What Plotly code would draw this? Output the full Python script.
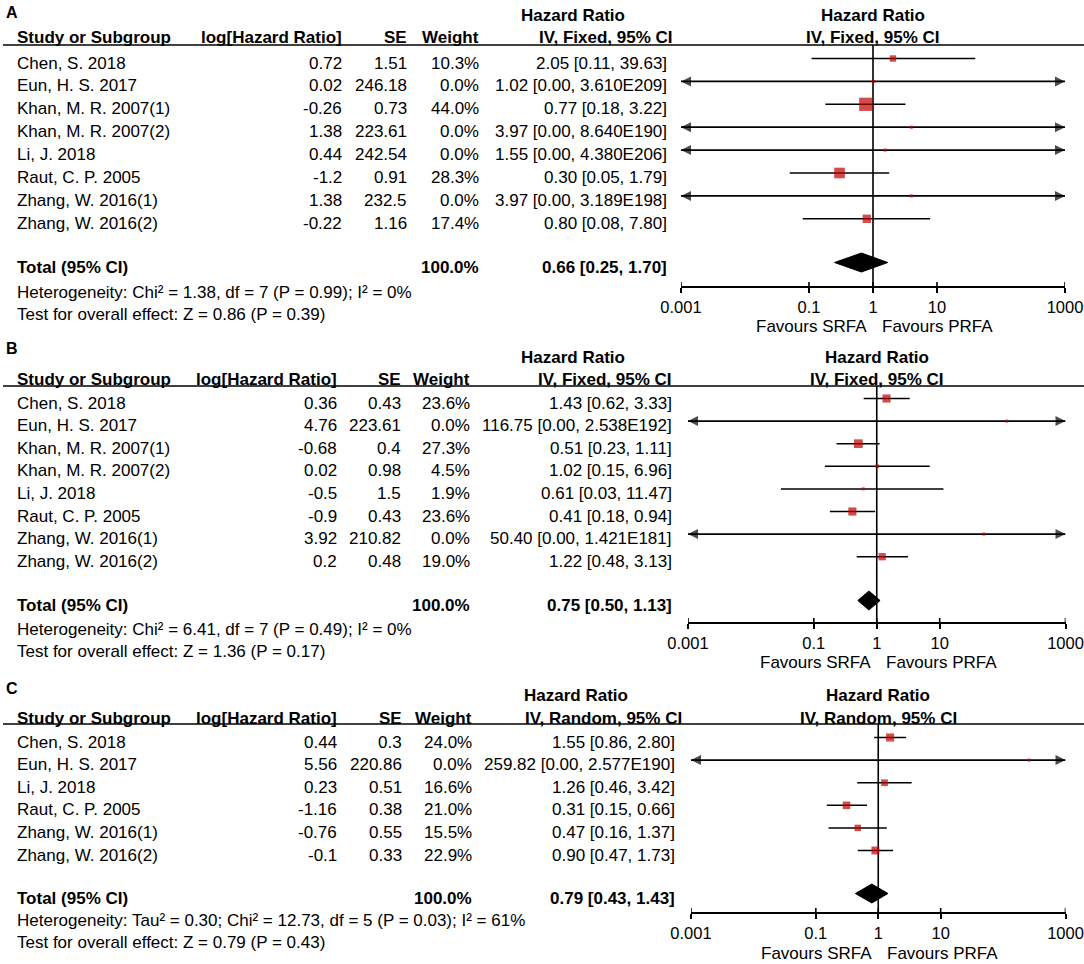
import plotly.graph_objects as go

W, H = 1084, 964
FONT = "Liberation Sans, Arial, sans-serif"
RED = "#C00000"
FS = 17

# ---------------- data ----------------
studies_a = ["Chen, S. 2018", "Eun, H. S. 2017", "Khan, M. R. 2007(1)", "Khan, M. R. 2007(2)",
             "Li, J. 2018", "Raut, C. P. 2005", "Zhang, W. 2016(1)", "Zhang, W. 2016(2)"]
loghr_a = [0.72, 0.02, -0.26, 1.38, 0.44, -1.2, 1.38, -0.22]
se_a = [1.51, 246.18, 0.73, 223.61, 242.54, 0.91, 232.5, 1.16]
weight_a = [10.3, 0.0, 44.0, 0.0, 0.0, 28.3, 0.0, 17.4]
hr_a = [2.05, 1.02, 0.77, 3.97, 1.55, 0.30, 3.97, 0.80]
lo_a = [0.11, 0.00, 0.18, 0.00, 0.00, 0.05, 0.00, 0.08]
hi_a = [39.63, 3.610e209, 3.22, 8.640e190, 4.380e206, 1.79, 3.189e198, 7.80]
total_weight_a = 100.0
total_a = [0.66, 0.25, 1.70]
method_a = "IV, Fixed, 95% CI"
het_a = "Heterogeneity: Chi² = 1.38, df = 7 (P = 0.99); I² = 0%"
test_a = "Test for overall effect: Z = 0.86 (P = 0.39)"

studies_b = ["Chen, S. 2018", "Eun, H. S. 2017", "Khan, M. R. 2007(1)", "Khan, M. R. 2007(2)",
             "Li, J. 2018", "Raut, C. P. 2005", "Zhang, W. 2016(1)", "Zhang, W. 2016(2)"]
loghr_b = [0.36, 4.76, -0.68, 0.02, -0.5, -0.9, 3.92, 0.2]
se_b = [0.43, 223.61, 0.4, 0.98, 1.5, 0.43, 210.82, 0.48]
weight_b = [23.6, 0.0, 27.3, 4.5, 1.9, 23.6, 0.0, 19.0]
hr_b = [1.43, 116.75, 0.51, 1.02, 0.61, 0.41, 50.40, 1.22]
lo_b = [0.62, 0.00, 0.23, 0.15, 0.03, 0.18, 0.00, 0.48]
hi_b = [3.33, 2.538e192, 1.11, 6.96, 11.47, 0.94, 1.421e181, 3.13]
total_weight_b = 100.0
total_b = [0.75, 0.50, 1.13]
method_b = "IV, Fixed, 95% CI"
het_b = "Heterogeneity: Chi² = 6.41, df = 7 (P = 0.49); I² = 0%"
test_b = "Test for overall effect: Z = 1.36 (P = 0.17)"

studies_c = ["Chen, S. 2018", "Eun, H. S. 2017", "Li, J. 2018", "Raut, C. P. 2005",
             "Zhang, W. 2016(1)", "Zhang, W. 2016(2)"]
loghr_c = [0.44, 5.56, 0.23, -1.16, -0.76, -0.1]
se_c = [0.3, 220.86, 0.51, 0.38, 0.55, 0.33]
weight_c = [24.0, 0.0, 16.6, 21.0, 15.5, 22.9]
hr_c = [1.55, 259.82, 1.26, 0.31, 0.47, 0.90]
lo_c = [0.86, 0.00, 0.46, 0.15, 0.16, 0.47]
hi_c = [2.80, 2.577e190, 3.42, 0.66, 1.37, 1.73]
total_weight_c = 100.0
total_c = [0.79, 0.43, 1.43]
method_c = "IV, Random, 95% CI"
het_c = "Heterogeneity: Tau² = 0.30; Chi² = 12.73, df = 5 (P = 0.03); I² = 61%"
test_c = "Test for overall effect: Z = 0.79 (P = 0.43)"

tick_vals = [0.001, 0.1, 1, 10, 1000]
tick_text = ["0.001", "0.1", "1", "10", "1000"]
favours_left = "Favours SRFA"
favours_right = "Favours PRFA"

# ---------------- layout (pixel positions) ----------------
LAYOUT = [
    dict(label="A", label_y=12, hdr1_y=15, hdr2_y=37, line_y=45, row0=63, step=22.9,
         total_y=267, het_y=292, test_y=314, axis_y=287, fav_y=326, ax_x0=681, ax_x1=1065,
         log_r=342, se_r=407, w_r=479, ci_r=667, ci_hdr_r=673, hr_hdr_c=573, sq_k=2.0),
    dict(label="B", label_y=348, hdr1_y=357, hdr2_y=379, line_y=386, row0=403, step=22.6,
         total_y=605, het_y=629, test_y=651, axis_y=623, fav_y=662, ax_x0=688, ax_x1=1065.5,
         log_r=337, se_r=401, w_r=470, ci_r=672, ci_hdr_r=672, hr_hdr_c=573, sq_k=1.67),
    dict(label="C", label_y=688, hdr1_y=695, hdr2_y=718, line_y=724, row0=742, step=22.6,
         total_y=898, het_y=920, test_y=942, axis_y=913, fav_y=953, ax_x0=691, ax_x1=1065.5,
         log_r=337, se_r=402, w_r=472, ci_r=675, ci_hdr_r=682, hr_hdr_c=576, sq_k=1.65),
]

PANELS = [
    dict(studies=studies_a, loghr=loghr_a, se=se_a, weight=weight_a, hr=hr_a, lo=lo_a, hi=hi_a,
         tw=total_weight_a, total=total_a, method=method_a, het=het_a, test=test_a),
    dict(studies=studies_b, loghr=loghr_b, se=se_b, weight=weight_b, hr=hr_b, lo=lo_b, hi=hi_b,
         tw=total_weight_b, total=total_b, method=method_b, het=het_b, test=test_b),
    dict(studies=studies_c, loghr=loghr_c, se=se_c, weight=weight_c, hr=hr_c, lo=lo_c, hi=hi_c,
         tw=total_weight_c, total=total_c, method=method_c, het=het_c, test=test_c),
]

MARK_OFF = -4.5   # markers sit slightly above the text centre
XMIN, XMAX = 1e-3, 1e3


def fmt_num(v):
    if v >= 1e5:
        return f"{v:.3E}".replace("E+", "E")
    return f"{v:.2f}"


def fmt_ci(h, l, u):
    return f"{fmt_num(h)} [{fmt_num(l)}, {fmt_num(u)}]"


fig = go.Figure()
annotations = []
shapes = []


def txt(x, y, s, anchor="left", bold=False, size=FS, xref="paper", xshift=0):
    annotations.append(dict(
        x=(x / W) if xref == "paper" else x, y=y, xref=xref, yref="y",
        text=f"<b>{s}</b>" if bold else s, showarrow=False,
        xanchor=anchor, yanchor="middle", xshift=xshift, borderpad=0, borderwidth=0,
        font=dict(family=FONT, size=size, color="black")))


layout_axes = {}
for i, (P, L) in enumerate(zip(PANELS, LAYOUT)):
    ax = "x" if i == 0 else f"x{i + 1}"
    axkey = "xaxis" if i == 0 else f"xaxis{i + 1}"

    layout_axes[axkey] = dict(
        domain=[L["ax_x0"] / W, L["ax_x1"] / W], type="log", range=[-3, 3],
        anchor="free", position=1 - L["axis_y"] / H, automargin=False,
        showline=True, linecolor="black", linewidth=1.6,
        ticks="outside", ticklen=5, tickwidth=1.6, tickcolor="black",
        tickvals=tick_vals, ticktext=tick_text,
        tickfont=dict(family=FONT, size=16.5, color="black"),
        showgrid=False, zeroline=False, fixedrange=True)

    # ---- text columns ----
    txt(6, L["label_y"], L["label"], bold=True, size=16)
    txt(L["hr_hdr_c"], L["hdr1_y"], "Hazard Ratio", anchor="center", bold=True)
    txt(17, L["hdr2_y"], "Study or Subgroup", bold=True)
    txt(L["log_r"], L["hdr2_y"], "log[Hazard Ratio]", anchor="right", bold=True)
    txt(L["se_r"], L["hdr2_y"], "SE", anchor="right", bold=True)
    txt(L["w_r"], L["hdr2_y"], "Weight", anchor="right", bold=True)
    txt(L["ci_hdr_r"], L["hdr2_y"], P["method"], anchor="right", bold=True)
    # right-hand headers centred on HR = 1 (annotation x on log axis = log10 value)
    txt(0, L["hdr1_y"], "Hazard Ratio", anchor="center", bold=True, xref=ax)
    txt(0, L["hdr2_y"], P["method"], anchor="center", bold=True, xref=ax)

    shapes.append(dict(type="line", xref="paper", yref="y", x0=3 / W, x1=1,
                       y0=L["line_y"], y1=L["line_y"], line=dict(color="black", width=1.6)))

    n = len(P["studies"])
    ys = [L["row0"] + k * L["step"] for k in range(n)]
    for k in range(n):
        y = ys[k]
        txt(17, y, P["studies"][k])
        txt(L["log_r"], y, f"{P['loghr'][k]:g}", anchor="right")
        txt(L["se_r"], y, f"{P['se'][k]:g}", anchor="right")
        txt(L["w_r"], y, f"{P['weight'][k]:.1f}%", anchor="right")
        txt(L["ci_r"], y, fmt_ci(P["hr"][k], P["lo"][k], P["hi"][k]), anchor="right")

    tot_hr, tot_lo, tot_hi = P["total"]
    txt(17, L["total_y"], "Total (95% CI)", bold=True)
    txt(L["w_r"], L["total_y"], f"{P['tw']:.1f}%", anchor="right", bold=True)
    txt(L["ci_r"], L["total_y"], fmt_ci(tot_hr, tot_lo, tot_hi), anchor="right", bold=True)
    txt(17, L["het_y"], P["het"])
    txt(17, L["test_y"], P["test"])

    txt(0, L["fav_y"], favours_left, anchor="right", xref=ax, xshift=-6)
    txt(0, L["fav_y"], favours_right, anchor="left", xref=ax, xshift=9)

    # ---- plot marks ----
    common = dict(xaxis=ax, yaxis="y", showlegend=False, hoverinfo="skip", cliponaxis=False)
    # vertical line of no effect
    fig.add_trace(go.Scatter(x=[1, 1], y=[L["line_y"], L["axis_y"]], mode="lines",
                             line=dict(color="black", width=1.6), **common))
    # upper halves of tick marks
    tx, ty = [], []
    for v in tick_vals:
        tx += [v, v, None]
        ty += [L["axis_y"] - 5, L["axis_y"], None]
    fig.add_trace(go.Scatter(x=tx, y=ty, mode="lines", line=dict(color="black", width=1.6), **common))

    # confidence-interval whiskers (with arrows when they leave the axis range)
    for k in range(n):
        ym = ys[k] + MARK_OFF
        lo, hi = P["lo"][k], P["hi"][k]
        clipped_lo, clipped_hi = lo < XMIN, hi > XMAX
        x0 = max(lo, XMIN)
        x1 = min(hi, XMAX)
        fig.add_trace(go.Scatter(
            x=[x0, x1], y=[ym, ym], mode="lines+markers",
            line=dict(color="black", width=1.8 if (clipped_lo or clipped_hi) else 1.5),
            marker=dict(symbol=["arrow-left", "arrow-right"],
                        size=[10 if clipped_lo else 0, 10 if clipped_hi else 0],
                        color="black", line=dict(width=0)),
            **common))
    # study squares
    sizes = [max(3, L["sq_k"] * (w ** 0.5)) for w in P["weight"]]
    fig.add_trace(go.Scatter(
        x=P["hr"], y=[y + MARK_OFF for y in ys], mode="markers",
        marker=dict(symbol="square", size=sizes, color=RED, line=dict(width=0)),
        **common))
    # pooled diamond
    yd = L["total_y"] + MARK_OFF
    hd = 9.5
    fig.add_trace(go.Scatter(
        x=[tot_lo, tot_hr, tot_hi, tot_hr, tot_lo], y=[yd, yd - hd, yd, yd + hd, yd],
        mode="lines", fill="toself", fillcolor="black", line=dict(color="black", width=1),
        **common))

fig.update_layout(
    width=W, height=H, margin=dict(l=0, r=0, t=0, b=0, autoexpand=False),
    template="none",
    paper_bgcolor="white", plot_bgcolor="rgba(0,0,0,0)",
    yaxis=dict(range=[H, 0], autorange=False, domain=[0, 1], visible=False,
               fixedrange=True, anchor="x", automargin=False),
    annotations=annotations, shapes=shapes, showlegend=False,
    font=dict(family=FONT, size=FS, color="black"),
    **layout_axes)

fig.write_html("out.html", config={"displayModeBar": False},
               post_script="document.body.style.margin='0';document.body.style.overflow='hidden';")
